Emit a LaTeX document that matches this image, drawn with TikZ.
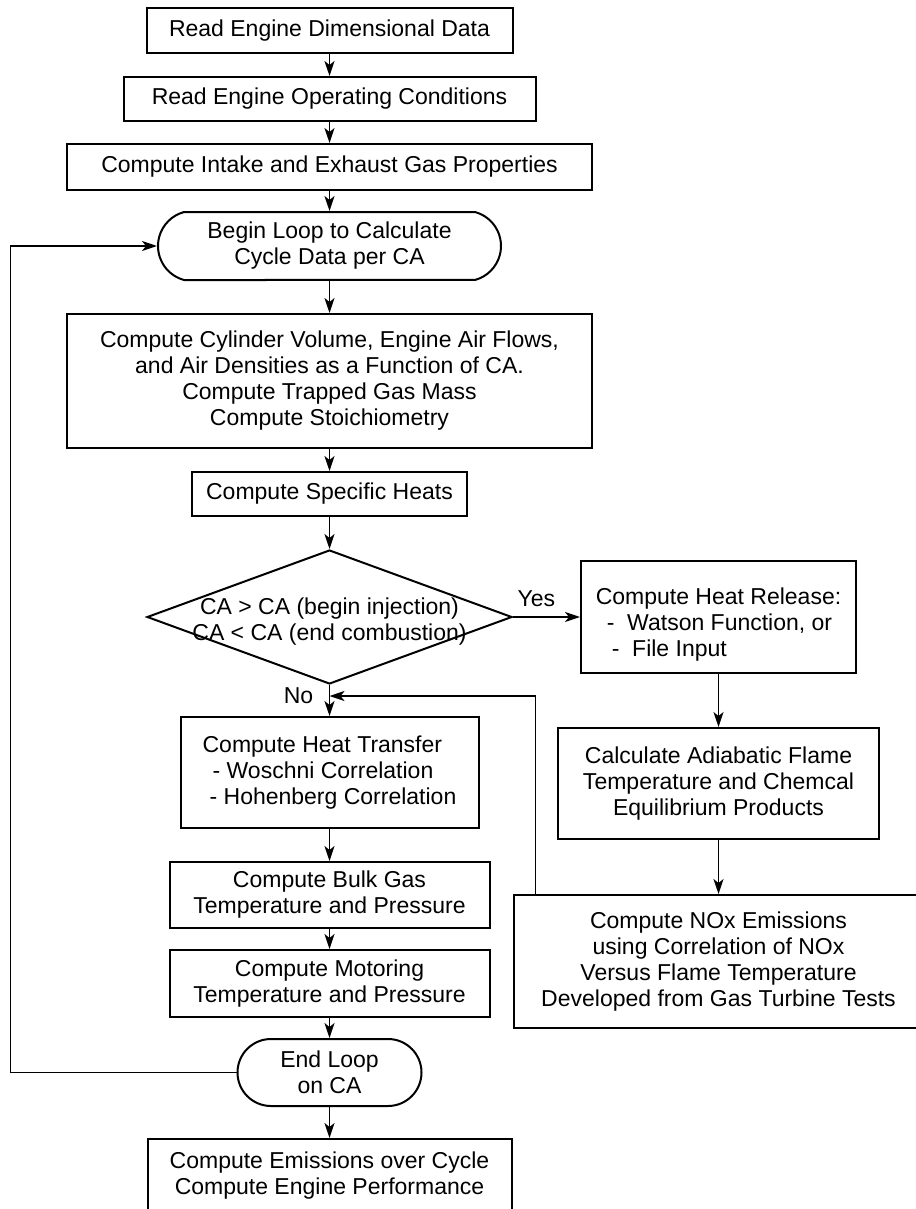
\documentclass[tikz,border=0pt]{standalone}
\usepackage{fontspec}
\setmainfont{Liberation Sans}
\usetikzlibrary{shapes.geometric,shapes.misc,arrows.meta}
\begin{document}
\begin{tikzpicture}[x=1pt,y=-1pt,
  every node/.style={font=\fontsize{23}{26}\selectfont},
  box/.style={draw, line width=2pt, rectangle, inner sep=0pt, align=center},
  term/.style={draw, line width=2pt, rounded rectangle, inner sep=0pt, align=center},
  dec/.style={draw, line width=2pt, diamond, inner sep=0pt},
  arr/.style={line width=1.8pt, -{Stealth[length=15pt,width=10pt,inset=4pt]}}]
\useasboundingbox (0,0) rectangle (915,1209);
\def\cx{329.5}
\def\rx{718.5}
\node[box, minimum width=366, minimum height=45] (b1) at (\cx,30.5) {Read Engine Dimensional Data};
\node[box, minimum width=412, minimum height=44] (b2) at (\cx,99) {Read Engine Operating Conditions};
\node[box, minimum width=525, minimum height=46] (b3) at (\cx,167) {Compute Intake and Exhaust Gas Properties};
\node[term, rounded rectangle arc length=150, minimum width=343, minimum height=68] (lp) at (\cx,246) {Begin Loop to Calculate\\Cycle Data per CA};
\node[box, minimum width=525, minimum height=134] (b5) at (\cx,381) {Compute Cylinder Volume, Engine Air Flows,\\and Air Densities as a Function of CA.\\Compute Trapped Gas Mass\\Compute Stoichiometry};
\node[box, minimum width=275, minimum height=44] (b6) at (\cx,494) {Compute Specific Heats};
\node[dec, minimum width=365, minimum height=134] (d) at (\cx,617) {\smash{\makebox[0pt]{\raisebox{-12pt}{\begin{tabular}{@{}c@{}}CA > CA (begin injection)\\CA < CA (end combustion)\end{tabular}}}}};
\node[box, align=left, minimum width=275, minimum height=112] (b7) at (\rx,617) {\rule{0pt}{32pt}Compute Heat Release:\\\hspace*{11pt}-\ \ Watson Function, or\\\hspace*{16pt}-\ \ File Input};
\node[box, minimum width=321, minimum height=111] (b8) at (\rx,783.5) {Calculate Adiabatic Flame\\Temperature and Chemcal\\Equilibrium Products};
\node[box, minimum width=410, minimum height=133] (b9) at (\rx,961.5) {Compute NOx Emissions\\using Correlation of NOx\\Versus Flame Temperature\\Developed from Gas Turbine Tests};
\node[box, align=left, minimum width=298, minimum height=111] (b10) at (\cx,772.5) {Compute Heat Transfer\\\hspace*{10pt}- Woschni Correlation\\\hspace*{7pt}- Hohenberg Correlation};
\node[box, minimum width=320, minimum height=66] (b11) at (\cx,895) {Compute Bulk Gas\\Temperature and Pressure};
\node[box, minimum width=320, minimum height=67] (b12) at (\cx,983.5) {Compute Motoring\\Temperature and Pressure};
\node[term, minimum width=184, minimum height=67] (el) at (\cx,1072.5) {End Loop\\on CA};
\node[box, minimum width=364, minimum height=74] (b13) at (\cx,1176) {Compute Emissions over Cycle\\Compute Engine Performance};

\draw[arr] (b1.south) -- (b2.north);
\draw[arr] (b2.south) -- (b3.north);
\draw[arr] (b3.south) -- (lp.north);
\draw[arr] (lp.south) -- (b5.north);
\draw[arr] (b5.south) -- (b6.north);
\draw[arr] (b6.south) -- (d.north);
\draw[arr] (d.south) -- node[pos=0.33, left=12pt] {No} (b10.north);
\draw[arr] (d.east) -- node[pos=0.35, above=6pt] {Yes} (b7.west);
\draw[arr] (b7.south) -- (b8.north);
\draw[arr] (b8.south) -- (b9.north);
\draw[arr] ([xshift=23pt]b9.north west) |- ([yshift=-11pt]d.south);
\draw[arr] (b10.south) -- (b11.north);
\draw[arr] (b11.south) -- (b12.north);
\draw[arr] (b12.south) -- (el.north);
\draw[arr] (el.south) -- (b13.north);
\draw[arr] (el.west) -- ++(-226,0) |- (lp.west);
\end{tikzpicture}
\end{document}
